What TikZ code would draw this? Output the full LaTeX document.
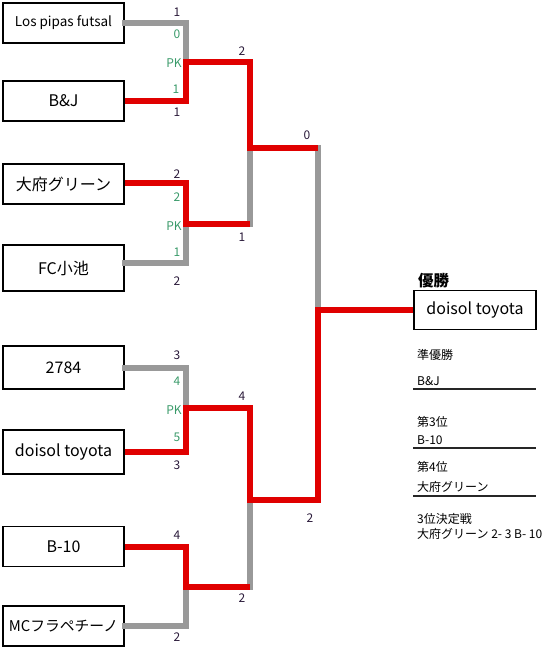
\documentclass[tikz,border=0pt]{standalone}
\usepackage{fontspec}
\setmainfont{Noto Sans CJK JP}
\begin{document}
\begin{tikzpicture}[x=1pt,y=-1pt]
\definecolor{lred}{HTML}{E00000}
\definecolor{lgray}{HTML}{999999}
\definecolor{scdark}{HTML}{2A1A3A}
\definecolor{scgreen}{HTML}{3A9A6A}
\tikzset{
  team/.style={draw=black, line width=1.1, fill=white, minimum width=121, minimum height=40, inner sep=0, font=\fontsize{16}{18}\selectfont},
  lose/.style={draw=lgray, line width=6, line cap=rect},
  win/.style={draw=lred, line width=6, line join=miter},
  sc/.style={inner sep=0, text=scdark, font=\fontsize{12}{13}\selectfont},
  pk/.style={inner sep=0, text=scgreen, font=\fontsize{12}{13}\selectfont},
  info/.style={inner sep=0, anchor=west, font=\fontsize{12}{13}\selectfont},
  uline/.style={draw=black!85, line width=1.4}
}
\useasboundingbox (0,0) rectangle (550,650);
% junctions
\coordinate (j1) at (186,62);
\coordinate (j2) at (186,224);
\coordinate (j3) at (186,408);
\coordinate (j4) at (186,587);
\coordinate (k1) at (250,148);
\coordinate (k2) at (250,500);
\coordinate (f1) at (318,148);
\coordinate (f) at (318,310);
% teams
\node[team] (t1) at (63.5,23) {\fontsize{13.5}{15}\selectfont Los pipas futsal};
\node[team] (t2) at (63.5,101) {B\&J};
\node[team] (t3) at (63.5,184) {大府グリーン};
\node[team, minimum height=46] (t4) at (63.5,268) {FC小池};
\node[team, minimum height=43] (t5) at (63.5,367.5) {2784};
\node[team, minimum height=44] (t6) at (63.5,452) {doisol toyota};
\node[team] (t7) at (63.5,546.5) {B-10};
\node[team] (t8) at (63.5,626) {\fontsize{14.8}{17}\selectfont MCフラペチーノ};
\node[team, minimum width=122, minimum height=39] (c) at (475,310) {doisol toyota};
% losing paths
\draw[lose] (t1.east) -| (j1);
\draw[lose] ([yshift=5]t4.east) -| (j2);
\draw[lose] (j2 -| k1) -- (k1);
\draw[lose] (f1) -- (f);
\draw[lose] (t5.east) -| (j3);
\draw[lose] (t8.east) -| (j4);
\draw[lose] (j4 -| k2) -- (k2);
% winning paths
\draw[win] (t2.east) -| (j1) -| (k1) -- (f1);
\draw[win] ([yshift=1]t3.east) -| (j2) -- (j2 -| k1);
\draw[win] (t6.east) -| (j3) -| (k2) -| (f) -- (c.west);
\draw[win] (t7.east) -| (j4) -- (j4 -| k2);
% scores
\node[sc] (s1) at (177,12) {1};
\node[pk] (p1) at (177,34) {0};
\node[pk] (k1l) at (174,63) {PK};
\node[pk] (p2) at (176,89) {1};
\node[sc] (s2) at (177,112) {1};
\node[sc] (s3) at (242,51) {2};
\node[sc] (s4) at (177,174) {2};
\node[pk] (p3) at (177,197) {2};
\node[pk] (k2l) at (174,226) {PK};
\node[pk] (p4) at (177,252) {1};
\node[sc] (s5) at (177,281) {2};
\node[sc] (s6) at (242,237) {1};
\node[sc] (s7) at (307,135) {0};
\node[sc] (s8) at (177,355) {3};
\node[pk] (p5) at (177,381) {4};
\node[pk] (k3l) at (174,410) {PK};
\node[pk] (p6) at (177,437) {5};
\node[sc] (s9) at (177,465) {3};
\node[sc] (s10) at (242,396) {4};
\node[sc] (s11) at (310,518) {2};
\node[sc] (s12) at (177,535) {4};
\node[sc] (s13) at (242,598) {2};
\node[sc] (s14) at (177,637) {2};
% results
\node[inner sep=0, anchor=west, font=\fontsize{15.5}{17}\bfseries\selectfont] (win) at (418,281) {優勝};
\node[info] (r1) at (417,355) {準優勝};
\node[info] (r2) at (417,381) {B\&J};
\coordinate (u1a) at (413,389); \coordinate (u1b) at (536,389);
\draw[uline] (u1a) -- (u1b);
\node[info] (r3) at (417,422) {第3位};
\node[info] (r4) at (417,440) {B-10};
\coordinate (u2a) at (413,448); \coordinate (u2b) at (536,448);
\draw[uline] (u2a) -- (u2b);
\node[info] (r5) at (417,467) {第4位};
\node[info] (r6) at (417,487) {大府グリーン};
\coordinate (u3a) at (413,496); \coordinate (u3b) at (536,496);
\draw[uline] (u3a) -- (u3b);
\node[info] (r7) at (417,519) {3位決定戦};
\node[info] (r8) at (417,534) {大府グリーン 2- 3 B- 10};
\end{tikzpicture}
\end{document}
